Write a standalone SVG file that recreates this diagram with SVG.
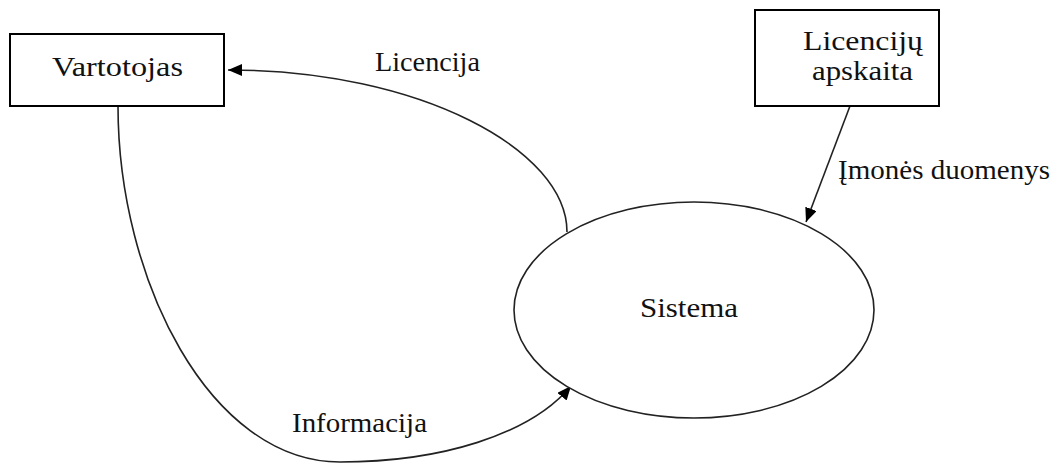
<svg xmlns="http://www.w3.org/2000/svg" width="1062" height="464" viewBox="0 0 1062 464">
<style>
.box{fill:#fff;stroke:#000;stroke-width:2}
.ell{fill:#fff;stroke:#222;stroke-width:1.6}
.t{font-family:"Liberation Serif","Times New Roman",serif;font-size:27px;fill:#111}
.edge{fill:none;stroke:#222;stroke-width:1.6}
</style>
<defs>
<marker id="arr" markerUnits="userSpaceOnUse" markerWidth="16" markerHeight="14" refX="14" refY="6" orient="auto">
<path d="M0,0 L14,6 L0,12 Z" fill="#000"/>
</marker>
</defs>
<rect width="1062" height="464" fill="#fff"/>
<g id="connectors">
<path class="edge" d="M567,232 C567,150 420,70 228,70" marker-end="url(#arr)"/>
<path class="edge" d="M118,106 C118,280 210,462 340,462 C440,462 530,435 571,386" marker-end="url(#arr)"/>
<path class="edge" d="M850,106 L806,222" marker-end="url(#arr)"/>
</g>
<g id="vartotojas">
<rect class="box" x="10" y="34" width="214" height="72"/>
<text class="t" x="52" y="76" textLength="131" lengthAdjust="spacingAndGlyphs">Vartotojas</text>
</g>
<g id="licenciju-apskaita">
<rect class="box" x="755" y="10" width="184" height="96"/>
<text class="t" x="803" y="50" textLength="120" lengthAdjust="spacingAndGlyphs">Licencijų</text>
<text class="t" x="812" y="80" textLength="101" lengthAdjust="spacingAndGlyphs">apskaita</text>
</g>
<g id="sistema">
<ellipse class="ell" cx="694" cy="310" rx="180" ry="108"/>
<text class="t" x="640" y="317" textLength="98" lengthAdjust="spacingAndGlyphs">Sistema</text>
</g>
<g id="labels">
<text class="t" x="375" y="71" textLength="105" lengthAdjust="spacingAndGlyphs">Licencija</text>
<text class="t" x="838" y="179" textLength="212" lengthAdjust="spacingAndGlyphs">Įmonės duomenys</text>
<text class="t" x="292" y="432" textLength="135" lengthAdjust="spacingAndGlyphs">Informacija</text>
</g>
</svg>
